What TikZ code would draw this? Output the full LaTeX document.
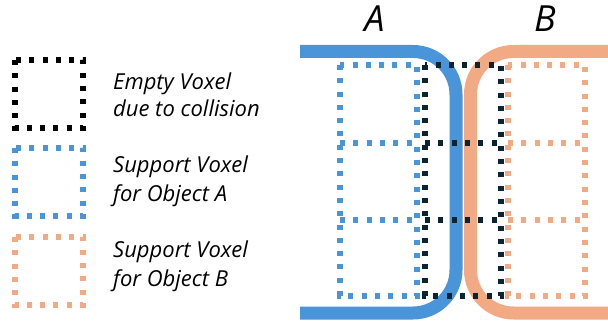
\documentclass[tikz,border=0pt]{standalone}
\usepackage{fontspec}
\setmainfont{Open Sans}
\definecolor{objA}{HTML}{4A94DA}
\definecolor{objB}{HTML}{F2AA84}
\definecolor{voidc}{HTML}{0C2331}
\begin{document}
\begin{tikzpicture}[x=1pt,y=-1pt,
  surface/.style={line width=13pt,rounded corners=43pt},
  voxel/.style={line width=5.2pt,dash pattern=on 5pt off 8.3pt},
  legtext/.style={anchor=base west,inner sep=0pt,font=\itshape\fontsize{22}{26}\selectfont},
  objlabel/.style={anchor=base,inner sep=0pt,font=\itshape\fontsize{36}{42}\selectfont}]
\useasboundingbox (0,0) rectangle (608,323);

% object surfaces
\draw[surface,objA] (300,51.5) -- (456,51.5) -- (456,313) -- (300,313);
\draw[surface,objB] (609,51.5) -- (470.5,51.5) -- (470.5,313) -- (609,313);

% support voxels of A
\draw[voxel,objA] (340,65) rectangle (417,296);
\draw[voxel,objA] (340,143) -- (417,143) (340,220) -- (417,220);
% support voxels of B
\draw[voxel,objB] (508,65) rectangle (585,296);
\draw[voxel,objB] (508,143) -- (585,143) (508,220) -- (585,220);
% empty voxels in the collision zone
\draw[voxel,voidc] (425,65) rectangle (501,296);
\draw[voxel,voidc] (425,143) -- (501,143) (425,220) -- (501,220);

% object labels
\node[objlabel] (labA) at (374.5,32) {A};
\node[objlabel] (labB) at (545,32) {B};

% legend
\draw[voxel,black] (15,60) rectangle (83,128);
\draw[voxel,objA] (15,148) rectangle (83,216);
\draw[voxel,objB] (15,237) rectangle (83,305);
\node[legtext] (le1) at (113,90) {Empty Voxel};
\node[legtext] (le2) at (113,117) {due to collision};
\node[legtext] (la1) at (113,173) {Support Voxel};
\node[legtext] (la2) at (113,202) {for Object A};
\node[legtext] (lb1) at (113,258) {Support Voxel};
\node[legtext] (lb2) at (113,287) {for Object B};
\end{tikzpicture}
\end{document}
